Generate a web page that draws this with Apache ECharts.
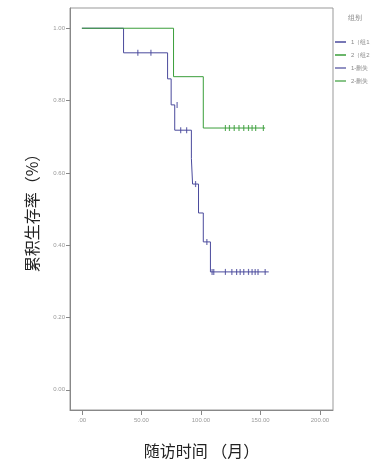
<!DOCTYPE html>
<html><head><meta charset="utf-8">
<script src="https://cdn.jsdelivr.net/npm/echarts@6/dist/echarts.min.js"></script>
<style>html,body{margin:0;padding:0;background:#fff}#c{width:371px;height:466px}</style>
</head><body><div id="c"></div>
<script>
const xTicks = [0, 50, 100, 150, 200];
const xTickLabels = ['.00', '50.00', '100.00', '150.00', '200.00'];
const yTicks = [0, 0.2, 0.4, 0.6, 0.8, 1.0];
const yTickLabels = ['0.00', '0.20', '0.40', '0.60', '0.80', '1.00'];

const group1Times = [0, 35, 72, 75, 78, 92, 93, 98, 102, 108, 157];
const group1Surv  = [1.0, 0.932, 0.860, 0.788, 0.718, 0.640, 0.569, 0.489, 0.409, 0.326, 0.326];
const group2Times = [0, 77, 102, 154];
const group2Surv  = [1.0, 0.866, 0.724, 0.724];

const group1CensorTimes = [47, 58, 80, 83, 88, 95.5, 105, 109.4, 110.8, 120.6, 126, 130, 133, 136, 140, 143, 145.6, 148, 154];
const group1CensorSurv  = [0.932, 0.932, 0.788, 0.718, 0.718, 0.569, 0.409, 0.326, 0.326, 0.326, 0.326, 0.326, 0.326, 0.326, 0.326, 0.326, 0.326, 0.326, 0.326];
const group2CensorTimes = [120.6, 124, 128, 132, 136, 140, 143, 146, 152.5];
const group2CensorSurv  = [0.724, 0.724, 0.724, 0.724, 0.724, 0.724, 0.724, 0.724, 0.724];

const seriesNames = ['1（组1）', '2（组2）', '1-删失', '2-删失'];
const blue = '#4a4a9c', green = '#3a9e3a';

const zip = (a, b) => a.map((v, i) => [v, b[i]]);
const chart = echarts.init(document.getElementById('c'));
chart.setOption({
  animation: false,
  grid: { left: 70, right: 38, top: 8, bottom: 56, show: true, borderColor: '#999', borderWidth: 1 },
  legend: {
    orient: 'vertical', left: 335, top: 39, itemGap: 7, itemWidth: 11, itemHeight: 1.5,
    icon: 'rect', textStyle: { fontSize: 6, color: '#888' }, padding: 0,
    data: seriesNames
  },
  graphic: [{ type: 'text', left: 348, top: 15, style: { text: '组别', fontSize: 7, fill: '#888' } }],
  xAxis: {
    type: 'value', min: -10, max: 211,
    name: '随访时间 （月）', nameLocation: 'middle', nameGap: 33,
    nameTextStyle: { fontSize: 16, color: '#222', fontFamily: 'Noto Sans CJK SC' },
    axisLine: { onZero: false, lineStyle: { color: '#888' } },
    axisTick: { show: true, length: 5, customValues: xTicks, lineStyle: { color: '#888' } },
    axisLabel: { customValues: xTicks, fontSize: 6, color: '#999', margin: 7,
      formatter: v => xTickLabels[xTicks.indexOf(v)] },
    splitLine: { show: false }
  },
  yAxis: {
    type: 'value', min: -0.056, max: 1.056,
    name: '累积生存率（%）', nameLocation: 'middle', nameGap: 30,
    nameTextStyle: { fontSize: 16, color: '#222', fontFamily: 'Noto Sans CJK SC' },
    axisLine: { show: true, onZero: false, lineStyle: { color: '#888' } },
    axisTick: { show: true, length: 4, customValues: yTicks, lineStyle: { color: '#888' } },
    axisLabel: { customValues: yTicks, fontSize: 6, color: '#999', margin: 5,
      formatter: v => yTickLabels[yTicks.findIndex(t => Math.abs(t - v) < 1e-6)] },
    splitLine: { show: false }
  },
  series: [
    { name: seriesNames[0], type: 'line', step: 'end', data: zip(group1Times, group1Surv), showSymbol: false,
      color: blue, lineStyle: { width: 1, color: blue }, z: 2 },
    { name: seriesNames[1], type: 'line', step: 'end', data: zip(group2Times, group2Surv), showSymbol: false,
      color: green, lineStyle: { width: 1, color: green }, z: 3 },
    { name: seriesNames[2], type: 'scatter', data: zip(group1CensorTimes, group1CensorSurv),
      symbol: 'rect', symbolSize: [1.2, 6], color: blue, itemStyle: { color: blue }, z: 4 },
    { name: seriesNames[3], type: 'scatter', data: zip(group2CensorTimes, group2CensorSurv),
      symbol: 'rect', symbolSize: [1.2, 6], color: green, itemStyle: { color: green }, z: 4 }
  ]
});
</script></body></html>
